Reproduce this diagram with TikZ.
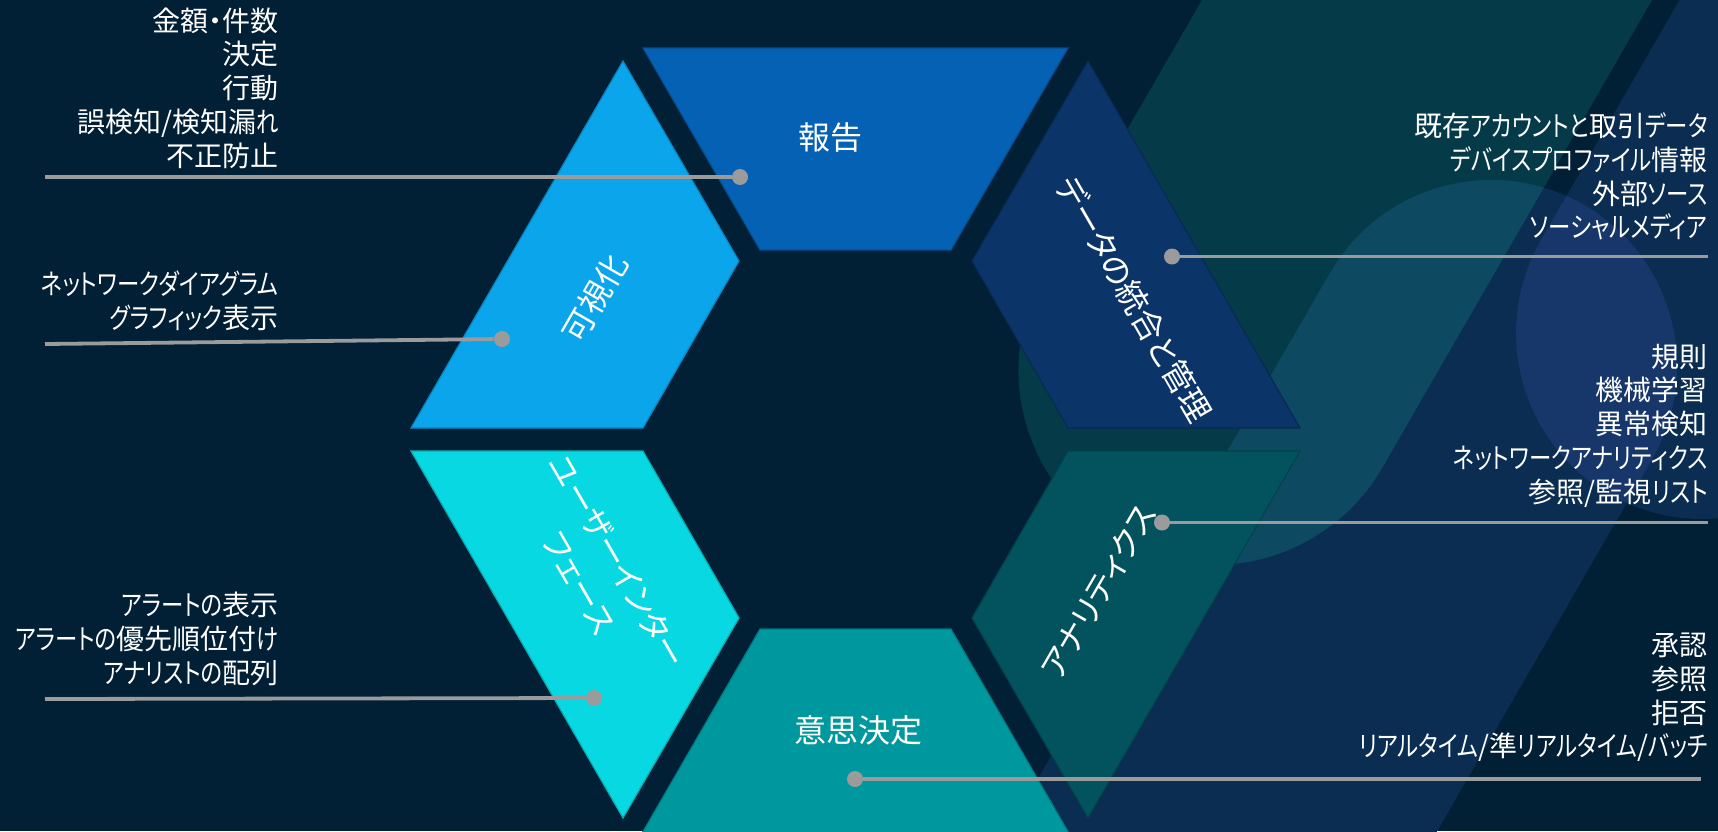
\documentclass[tikz,border=0pt]{standalone}
\usepackage{fontspec}
\setmainfont{Noto Sans CJK JP}[RawFeature=+palt]
\newfontfamily\kanafont{Noto Sans CJK JP}[RawFeature=+palt, FakeStretch=0.8]
\newcommand{\K}[1]{{\kanafont #1}}
\definecolor{bgc}{HTML}{011F35}
\definecolor{tealband}{HTML}{053A49}
\definecolor{tealover}{HTML}{0D4A62}
\definecolor{navyband}{HTML}{0A2D51}
\definecolor{navyover}{HTML}{17376A}
\definecolor{cRep}{HTML}{0561B3}
\definecolor{cVis}{HTML}{0BA5EC}
\definecolor{cUI}{HTML}{08D8E1}
\definecolor{cDec}{HTML}{00989F}
\definecolor{cAna}{HTML}{03535E}
\definecolor{cDat}{HTML}{0B3468}
\definecolor{conn}{HTML}{9B9B9B}
\tikzset{
 seg/.style={fill=#1, draw=#1!80!black, line width=0.6pt, line join=miter},
 lab/.style={text=white, font=\fontsize{16}{22}\selectfont, inner sep=0pt},
 lst/.style={text=white, font=\fontsize{14}{16.85}\selectfont, inner sep=0pt, align=right, anchor=east},
 dotc/.style={circle, fill=conn, inner sep=0pt, minimum size=8pt},
 connline/.style={draw=conn, line width=1.9pt}
}
\begin{document}
\begin{tikzpicture}[x=0.5pt,y=-0.5pt]
\useasboundingbox (0,0) rectangle (1718,831);
\fill[bgc] (0,0) rectangle (1718,831);
\begin{scope}
 \clip (0,0) rectangle (1718,831);
 % background bands
 \fill[navyband] (1330,273) arc[start angle=150,end angle=-30,radius=93pt] -- (1302,1065) -- (980,879) -- cycle;
 \fill[navyband] (1541,240) arc[start angle=150,end angle=330,radius=93pt] -- (2163,-94) -- (1841,-280) -- cycle;
 \fill[tealband] (1207.8,-10) -- (1044.6,272.5) arc[start angle=150,end angle=330,radius=97.5pt] -- (1657.8,-10) -- cycle;
 \begin{scope}
  \clip (1330,273) arc[start angle=150,end angle=-30,radius=93pt] -- (1302,1065) -- (980,879) -- cycle;
  \fill[tealover] (1207.8,-10) -- (1044.6,272.5) arc[start angle=150,end angle=330,radius=97.5pt] -- (1657.8,-10) -- cycle;
  \fill[navyover] (1541,240) arc[start angle=150,end angle=330,radius=93pt] -- (2163,-94) -- (1841,-280) -- cycle;
 \end{scope}
 % hexagon segments
 \filldraw[seg=cRep] (643,48) -- (1068,48) -- (951,250) -- (760,250) -- cycle;
 \filldraw[seg=cVis] (623,61) -- (739,261) -- (643,428) -- (411,428) -- cycle;
 \filldraw[seg=cUI] (411,451) -- (643,451) -- (739,618) -- (623,818) -- cycle;
 \filldraw[seg=cDec] (760,629) -- (951,629) -- (1070,835) -- (641,835) -- cycle;
 \filldraw[seg=cDat] (1088,61) -- (1300,428) -- (1068,428) -- (972,261) -- cycle;
 \filldraw[seg=cAna] (1068,451) -- (1300,451) -- (1088,818) -- (972,618) -- cycle;
\end{scope}
% connectors
\coordinate (e1) at (45,177);
\node[dotc] (d1) at (740,177) {};
\coordinate (e2) at (45,344);
\node[dotc] (d2) at (502,339) {};
\coordinate (e3) at (45,699);
\node[dotc] (d3) at (594,698) {};
\coordinate (e4) at (1708,256.5);
\node[dotc] (d4) at (1172,256.5) {};
\coordinate (e5) at (1708,522.5);
\node[dotc] (d5) at (1162,522.5) {};
\coordinate (e6) at (1701,779);
\node[dotc] (d6) at (855,779) {};
\draw[connline] (e1) -- (d1);
\draw[connline] (e2) -- (d2);
\draw[connline] (e3) -- (d3);
\draw[connline] (e4) -- (d4);
\draw[connline] (e5) -- (d5);
\draw[connline] (e6) -- (d6);
% segment labels
\node[lab] (tr) at (830,137) {報告};
\node[lab, rotate=60] (tv) at (595,298) {可視化};
\node[lab, rotate=-60] (td) at (1134,299) {データの統合と管理};
\node[lab, rotate=60] (ta) at (1099,592) {アナリティクス};
\node[lab, rotate=-60, align=center] (tu) at (599,572) {ユーザーインター\\フェース};
\node[lab] (tm) at (858,730) {意思決定};
% lists
\node[lst] (l1) at (279,88) {金額・件数\\決定\\行動\\誤検知/検知漏\K{れ}\\不正防止};
\node[lst] (l2) at (279,300.5) {\K{ネットワークダイアグラム}\\\K{グラフィック}表示};
\node[lst] (l3) at (279,639) {\K{アラートの}表示\\\K{アラートの}優先順位付\K{け}\\\K{アナリストの}配列};
\node[lst] (r1) at (1708,176.5) {既存\K{アカウントと}取引\K{データ}\\\K{デバイスプロファイル}情報\\外部\K{ソース}\\\K{ソーシャルメディア}};
\node[lst] (r2) at (1708,425.5) {規則\\機械学習\\異常検知\\\K{ネットワークアナリティクス}\\参照/監視\K{リスト}};
\node[lst] (r3) at (1708,697.5) {承認\\参照\\拒否\\\K{リアルタイム}/準\K{リアルタイム}/\K{バッチ}};
\end{tikzpicture}
\end{document}
